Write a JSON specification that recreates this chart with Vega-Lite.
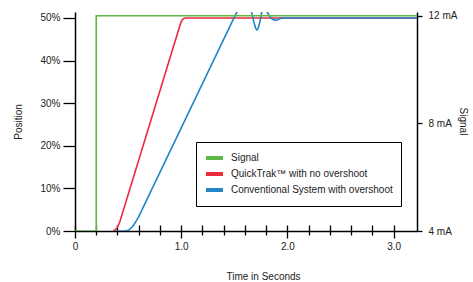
{
  "$schema": "https://vega.github.io/schema/vega-lite/v6.json",
  "width": 342,
  "height": 219,
  "autosize": {"type": "none"},
  "padding": {"left": 75, "top": 12, "right": 56, "bottom": 51},
  "background": "white",
  "config": {
    "view": {"stroke": null},
    "font": "Liberation Sans",
    "axis": {
      "labelFont": "Liberation Sans",
      "titleFont": "Liberation Sans",
      "labelFontSize": 10,
      "titleFontSize": 10,
      "titleFontWeight": "normal",
      "grid": false,
      "domainColor": "black",
      "domainWidth": 1.5,
      "tickColor": "black",
      "tickWidth": 1.3,
      "labelColor": "#222",
      "titleColor": "#222"
    },
    "legend": {"labelFont": "Liberation Sans", "labelFontSize": 10, "labelColor": "#222"}
  },
  "datasets": {
    "pos": [
      {"series": "QuickTrak™ with no overshoot", "t": 0.36, "pct": 0},
      {"series": "QuickTrak™ with no overshoot", "t": 0.38, "pct": 0.3},
      {"series": "QuickTrak™ with no overshoot", "t": 0.40, "pct": 0.9},
      {"series": "QuickTrak™ with no overshoot", "t": 0.42, "pct": 2.0},
      {"series": "QuickTrak™ with no overshoot", "t": 0.99, "pct": 48.4},
      {"series": "QuickTrak™ with no overshoot", "t": 1.0, "pct": 49.1},
      {"series": "QuickTrak™ with no overshoot", "t": 1.01, "pct": 49.6},
      {"series": "QuickTrak™ with no overshoot", "t": 1.025, "pct": 49.9},
      {"series": "QuickTrak™ with no overshoot", "t": 1.04, "pct": 50},
      {"series": "QuickTrak™ with no overshoot", "t": 3.22, "pct": 50},
      {"series": "Conventional System with overshoot", "t": 0.38, "pct": 0},
      {"series": "Conventional System with overshoot", "t": 0.47, "pct": 0},
      {"series": "Conventional System with overshoot", "t": 0.5, "pct": 0.2},
      {"series": "Conventional System with overshoot", "t": 0.52, "pct": 0.5},
      {"series": "Conventional System with overshoot", "t": 0.54, "pct": 1.0},
      {"series": "Conventional System with overshoot", "t": 0.56, "pct": 1.7},
      {"series": "Conventional System with overshoot", "t": 0.58, "pct": 2.5},
      {"series": "Conventional System with overshoot", "t": 0.6, "pct": 3.4},
      {"series": "Conventional System with overshoot", "t": 1.5, "pct": 50.2},
      {"series": "Conventional System with overshoot", "t": 1.53, "pct": 51.7},
      {"series": "Conventional System with overshoot", "t": 1.56, "pct": 53},
      {"series": "Conventional System with overshoot", "t": 1.6, "pct": 54},
      {"series": "Conventional System with overshoot", "t": 1.63, "pct": 53.2},
      {"series": "Conventional System with overshoot", "t": 1.66, "pct": 51.6},
      {"series": "Conventional System with overshoot", "t": 1.685, "pct": 49},
      {"series": "Conventional System with overshoot", "t": 1.7, "pct": 47.6},
      {"series": "Conventional System with overshoot", "t": 1.712, "pct": 47.2},
      {"series": "Conventional System with overshoot", "t": 1.725, "pct": 47.6},
      {"series": "Conventional System with overshoot", "t": 1.74, "pct": 49},
      {"series": "Conventional System with overshoot", "t": 1.76, "pct": 51.6},
      {"series": "Conventional System with overshoot", "t": 1.785, "pct": 52.6},
      {"series": "Conventional System with overshoot", "t": 1.81, "pct": 51.4},
      {"series": "Conventional System with overshoot", "t": 1.835, "pct": 50.3},
      {"series": "Conventional System with overshoot", "t": 1.86, "pct": 49.7},
      {"series": "Conventional System with overshoot", "t": 1.885, "pct": 49.45},
      {"series": "Conventional System with overshoot", "t": 1.91, "pct": 49.6},
      {"series": "Conventional System with overshoot", "t": 1.935, "pct": 49.9},
      {"series": "Conventional System with overshoot", "t": 1.96, "pct": 50},
      {"series": "Conventional System with overshoot", "t": 3.22, "pct": 50}
    ],
    "sig": [
      {"series": "Signal", "t": 0, "mA": 4},
      {"series": "Signal", "t": 0.2, "mA": 4},
      {"series": "Signal", "t": 0.2, "mA": 12},
      {"series": "Signal", "t": 3.22, "mA": 12}
    ]
  },
  "layer": [
    {
      "data": {"name": "pos"},
      "mark": {"type": "line", "strokeWidth": 1.6, "clip": true},
      "encoding": {
        "x": {
          "field": "t",
          "type": "quantitative",
          "scale": {"domain": [0, 3.22], "nice": false, "zero": false},
          "axis": {
            "orient": "bottom",
            "values": [0, 0.2, 0.4, 0.6, 0.8, 1, 1.2, 1.4, 1.6, 1.8, 2, 2.2, 2.4, 2.6, 2.8, 3],
            "labelExpr": "datum.value == 0 ? '0' : (datum.value % 1 == 0 ? format(datum.value, '.1f') : '')",
            "domain": false,
            "offset": -6,
            "tickSize": {"condition": {"test": "datum.value % 1 == 0", "value": 13}, "value": 10},
            "labelPadding": 3,
            "labelFlush": false,
            "labelOverlap": false,
            "title": null
          }
        },
        "y": {
          "field": "pct",
          "type": "quantitative",
          "scale": {"domain": [0, 51.4], "nice": false},
          "axis": {
            "orient": "left",
            "values": [0, 10, 20, 30, 40, 50],
            "labelExpr": "datum.value + '%'",
            "tickSize": 12,
            "labelPadding": 3,
            "title": "Position",
            "titleAngle": -90,
            "titleX": -57,
            "titleY": 109.5,
            "titleBaseline": "middle",
            "titleAlign": "center"
          }
        },
        "color": {
          "field": "series",
          "type": "nominal",
          "scale": {
            "domain": ["Signal", "QuickTrak™ with no overshoot", "Conventional System with overshoot"],
            "range": ["#5db844", "#ec2a3b", "#2385c6"]
          },
          "legend": {
            "title": null,
            "orient": "none",
            "legendX": 121,
            "legendY": 130,
            "direction": "vertical",
            "strokeColor": "black",
            "fillColor": "white",
            "padding": 8,
            "symbolType": "stroke",
            "symbolStrokeWidth": 4,
            "symbolSize": 289,
            "clipHeight": 16,
            "rowPadding": 0,
            "labelOffset": 6,
            "labelLimit": 400
          }
        }
      }
    },
    {
      "data": {"name": "sig"},
      "mark": {"type": "line", "strokeWidth": 1.6, "clip": true},
      "encoding": {
        "x": {
          "field": "t",
          "type": "quantitative",
          "scale": {"domain": [0, 3.22], "nice": false, "zero": false},
          "axis": {
            "orient": "bottom",
            "domain": true,
            "ticks": false,
            "labels": false,
            "title": "Time in Seconds",
            "titleX": 188,
            "titleY": 45,
            "titleBaseline": "middle",
            "titleAlign": "center"
          }
        },
        "y": {
          "field": "mA",
          "type": "quantitative",
          "scale": {"domain": [4, 12.14], "nice": false, "zero": false},
          "axis": {
            "orient": "right",
            "values": [4, 8, 12],
            "labelExpr": "datum.value + ' mA'",
            "tickSize": 5,
            "labelPadding": 6,
            "title": "Signal",
            "titleAngle": 90,
            "titleX": 45,
            "titleY": 109,
            "titleBaseline": "middle",
            "titleAlign": "center"
          }
        },
        "color": {"field": "series", "type": "nominal"}
      }
    }
  ],
  "resolve": {"scale": {"y": "independent"}, "axis": {"x": "independent"}}
}
